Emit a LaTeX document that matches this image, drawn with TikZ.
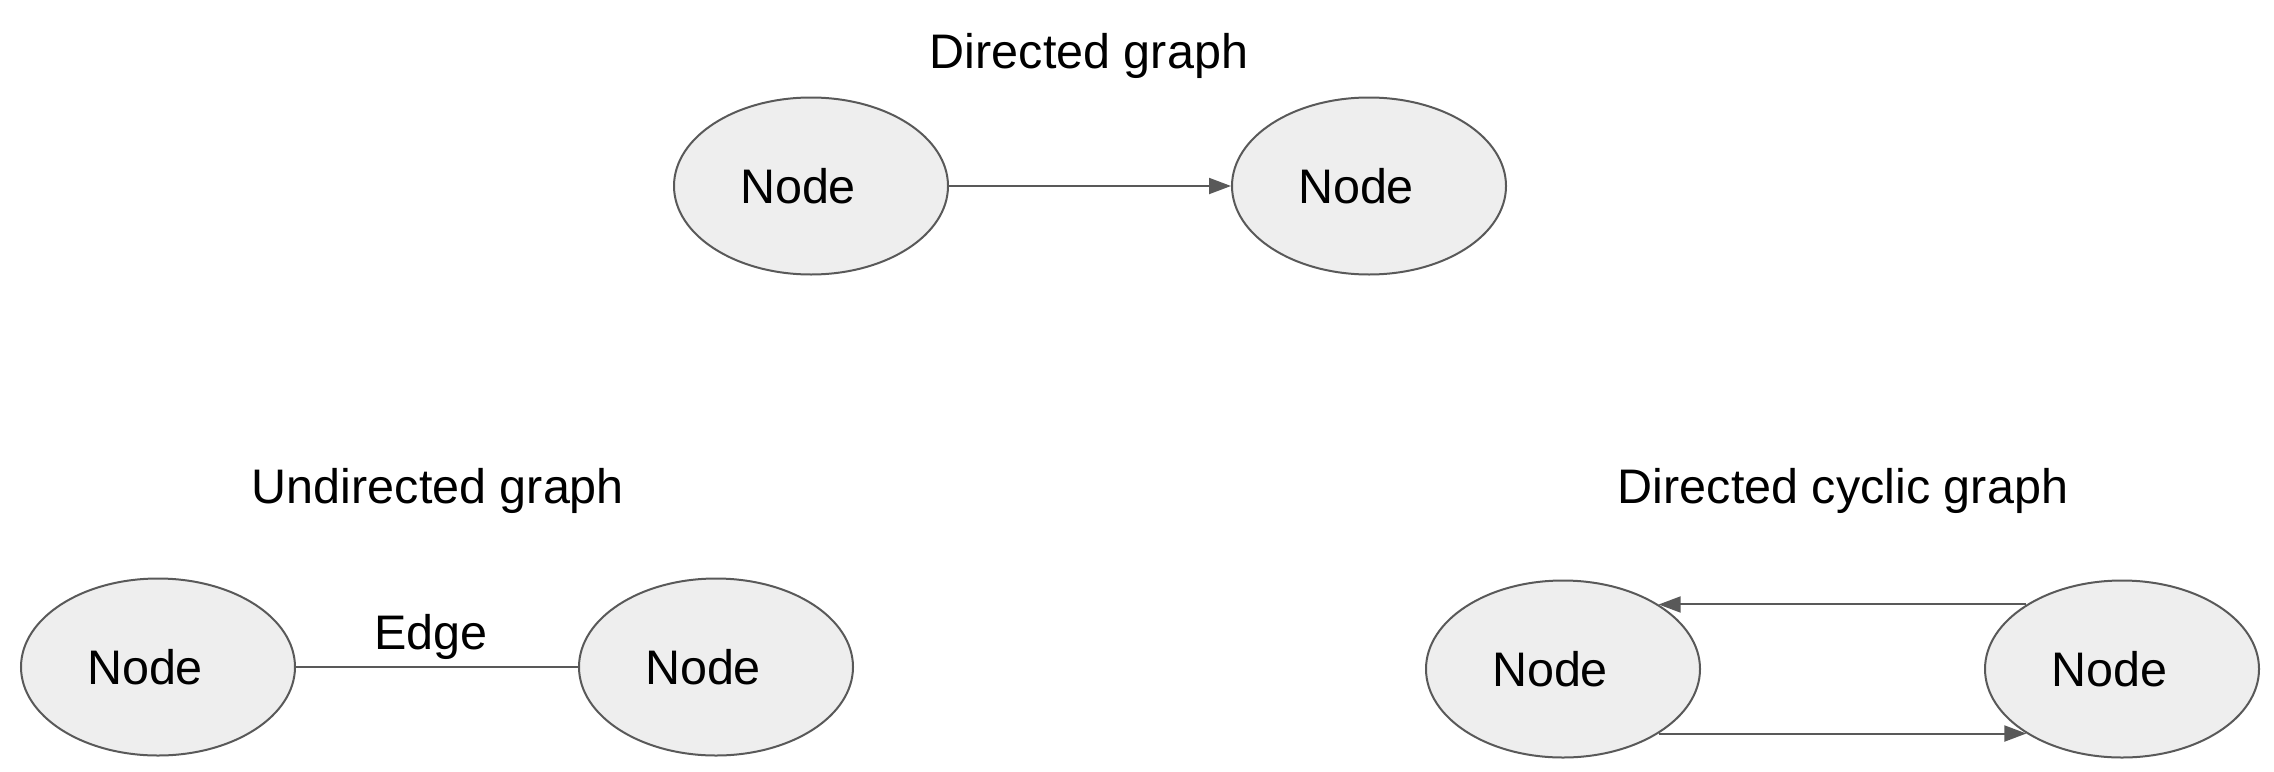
\documentclass[tikz,border=0pt]{standalone}
\usepackage{fontspec}
\setmainfont{Liberation Sans}
\usetikzlibrary{arrows.meta,shapes.geometric}
\definecolor{edgegray}{HTML}{595959}
\definecolor{nodefill}{HTML}{EEEEEE}
\newcommand{\nodetext}{\raisebox{-1.5pt}{Node}\hspace*{13pt}}
\begin{document}
\begin{tikzpicture}[x=0.5pt,y=-0.5pt,
  gnode/.style={ellipse,draw=edgegray,fill=nodefill,line width=1pt,
    minimum width=137pt,minimum height=88.5pt,inner sep=0pt,
    font=\fontsize{24.25pt}{29pt}\selectfont},
  title/.style={font=\fontsize{24.25pt}{29pt}\selectfont,inner sep=0pt},
  conn/.style={draw=edgegray,line width=1pt},
  arr/.style={conn,-{Triangle[length=11pt,width=8pt]}}]
\useasboundingbox (0,0) rectangle (2274,771);
% top: directed graph
\node[title] (t1) at (1089,56) {Directed graph};
\node[gnode] (a) at (811,186) {\nodetext};
\node[gnode] (b) at (1369,186) {\nodetext};
\draw[arr] (a.east) -- (b.west);
% bottom left: undirected graph
\node[title] (t2) at (438,491) {Undirected graph};
\node[gnode] (c) at (158,667) {\nodetext};
\node[gnode] (d) at (716,667) {\nodetext};
\draw[conn] (c.east) -- node[title,above=3pt,xshift=-3pt] (el) {Edge} (d.west);
% bottom right: directed cyclic graph
\node[title] (t3) at (1843,491) {Directed cyclic graph};
\node[gnode] (e) at (1563,669) {\nodetext};
\node[gnode] (f) at (2122,669) {\nodetext};
\draw[arr] (f.146) -- (e.34);
\draw[arr] (e.-34) -- (f.-146);
\end{tikzpicture}
\end{document}
